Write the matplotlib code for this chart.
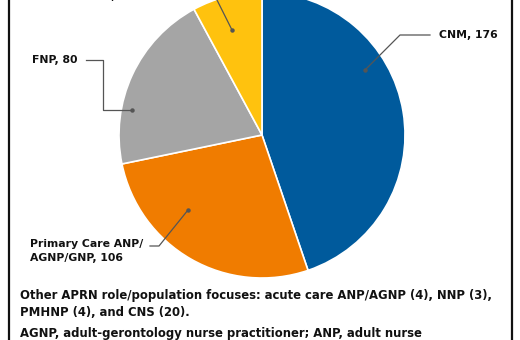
import matplotlib.pyplot as plt
from matplotlib.patches import Rectangle

# APRN role/population focus counts
focus_labels = ["CNM", "Primary Care ANP/\nAGNP/GNP", "FNP", "Other"]
focus_counts = [176, 106, 80, 31]
focus_colors = ["#005a9c", "#f07c00", "#a5a5a5", "#ffc20e"]

footnote_lines = [
    "Other APRN role/population focuses: acute care ANP/AGNP (4), NNP (3),",
    "PMHNP (4), and CNS (20).",
    "AGNP, adult-gerontology nurse practitioner; ANP, adult nurse",
]

W, H = 520, 340
fig = plt.figure(figsize=(W / 100, H / 100), dpi=100)
ax = fig.add_axes([0, 0, 1, 1])


def py(y):
    # pixel rows counted from the top
    return H - y


ax.pie(focus_counts, colors=focus_colors, startangle=90, counterclock=False,
       center=(262, py(135)), radius=143, frame=True,
       wedgeprops=dict(edgecolor="white", linewidth=1.2))
ax.set_xlim(0, W)
ax.set_ylim(0, H)
ax.set_aspect("equal")
ax.axis("off")

# outer frame
ax.add_patch(Rectangle((9, -10), 503, H + 20, fill=False,
                       edgecolor="#111111", linewidth=1.6))

lead = dict(color="#555555", linewidth=0.9)
label_kw = dict(fontsize=7.8, fontweight="bold", color="#111111",
                family="DejaVu Sans")


def leader(points):
    xs = [p[0] for p in points]
    ys = [py(p[1]) for p in points]
    ax.plot(xs, ys, **lead)
    ax.plot(xs[-1], ys[-1], "o", color="#555555", markersize=2.2)


texts = [f"{lab}, {n}" for lab, n in zip(focus_labels, focus_counts)]

# CNM
leader([(430, 35), (400, 35), (365, 70)])
ax.text(439, py(35), texts[0], ha="left", va="center", **label_kw)

# Primary care
leader([(150, 246), (159, 246), (188, 210)])
ax.text(30, py(251), texts[1], ha="left", va="center",
        linespacing=1.45, **label_kw)

# FNP
leader([(86, 60), (103, 60), (103, 110), (132, 110)])
ax.text(77, py(60), texts[2], ha="right", va="center", **label_kw)

# Other
leader([(205, -20), (217, 0), (232, 30)])
ax.text(134, py(-4), texts[3], ha="right", va="center", **label_kw)

foot_kw = dict(fontsize=8.4, fontweight="bold", color="#111111",
               family="DejaVu Sans", ha="left", va="center")
ax.text(20, py(296), footnote_lines[0], **foot_kw)
ax.text(20, py(312), footnote_lines[1], **foot_kw)
ax.text(20, py(334), footnote_lines[2], **foot_kw)

fig.savefig("out.png", dpi=100, facecolor="white")
